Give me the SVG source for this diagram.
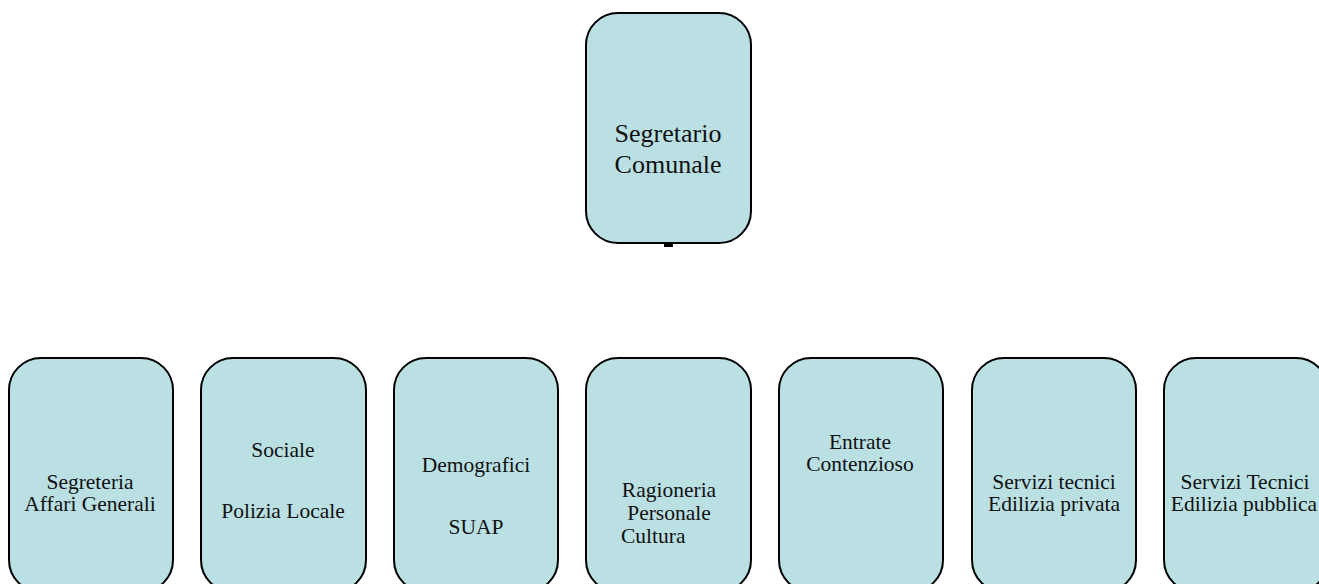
<svg xmlns="http://www.w3.org/2000/svg" width="1319" height="584" viewBox="0 0 1319 584">
<style>
.box{fill:#bae0e4;stroke:#000;stroke-width:2}
.t{font-family:"Liberation Serif","Times New Roman",serif;font-size:21.5px;fill:#111;text-anchor:middle}
.big{font-size:26px}
.l{text-anchor:start}
</style>
<rect width="1319" height="584" fill="#fff"/>
<g id="connectors">
<rect x="664" y="243" width="9" height="4" fill="#000"/>
</g>
<g id="n-segretario">
<rect class="box" x="586" y="13" width="165" height="230" rx="32"/>
<text class="t big" x="668" y="142">Segretario</text>
<text class="t big" x="668" y="173">Comunale</text>
</g>
<g id="n-segreteria">
<rect class="box" x="9" y="358" width="164" height="234" rx="32"/>
<text class="t" x="90" y="488.5">Segreteria</text>
<text class="t" x="90" y="511">Affari Generali</text>
</g>
<g id="n-sociale">
<rect class="box" x="201" y="358" width="165" height="234" rx="32"/>
<text class="t" x="283" y="457">Sociale</text>
<text class="t" x="283" y="518">Polizia Locale</text>
</g>
<g id="n-demografici">
<rect class="box" x="394" y="358" width="164" height="234" rx="32"/>
<text class="t" x="476" y="472">Demografici</text>
<text class="t" x="476" y="534">SUAP</text>
</g>
<g id="n-ragioneria">
<rect class="box" x="586" y="358" width="165" height="234" rx="32"/>
<text class="t" x="669" y="497">Ragioneria</text>
<text class="t" x="669" y="520">Personale</text>
<text class="t l" x="621" y="543">Cultura</text>
</g>
<g id="n-entrate">
<rect class="box" x="779" y="358" width="164" height="234" rx="32"/>
<text class="t" x="860" y="448.5">Entrate</text>
<text class="t" x="860" y="471">Contenzioso</text>
</g>
<g id="n-servizi-tecnici-privata">
<rect class="box" x="972" y="358" width="164" height="234" rx="32"/>
<text class="t" x="1054" y="488.5">Servizi tecnici</text>
<text class="t" x="1054" y="511">Edilizia privata</text>
</g>
<g id="n-servizi-tecnici-pubblica">
<rect class="box" x="1164" y="358" width="164" height="234" rx="32"/>
<text class="t" x="1245" y="488.5">Servizi Tecnici</text>
<text class="t" x="1244" y="511">Edilizia pubblica</text>
</g>
</svg>
